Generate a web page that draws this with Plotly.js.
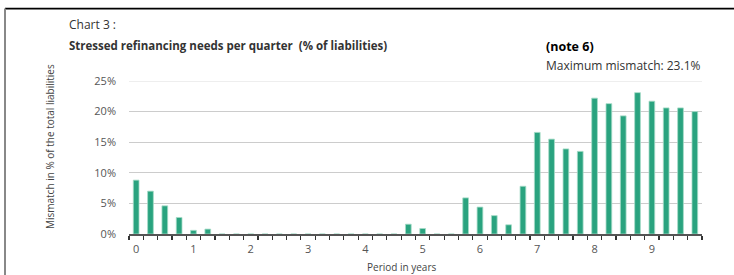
<!DOCTYPE html>
<html>
<head>
<meta charset="utf-8">
<script src="https://cdn.plot.ly/plotly-3.0.1.min.js"></script>
<style>
html,body{margin:0;padding:0;background:#fff;}
#chart{width:734px;height:275px;}
</style>
</head>
<body>
<div id="chart"></div>
<script>
// Period in years (quarters)
const periods = [0,0.25,0.5,0.75,1,1.25,1.5,1.75,2,2.25,2.5,2.75,3,3.25,3.5,3.75,4,4.25,4.5,4.75,
                 5,5.25,5.5,5.75,6,6.25,6.5,6.75,7,7.25,7.5,7.75,8,8.25,8.5,8.75,9,9.25,9.5,9.75];
// Mismatch in % of total liabilities
const mismatch = [8.8,7.0,4.6,2.7,0.6,0.8,0,0,0,0,0,0,0,0,0,0,0,0,0,1.6,
                  0.9,0,0,5.9,4.4,3.0,1.5,7.8,16.6,15.5,13.9,13.5,22.2,21.3,19.3,23.1,21.7,20.6,20.6,20.0];
const xTickVals = [0,1,2,3,4,5,6,7,8,9];
const xTickText = ['0','1','2','3','4','5','6','7','8','9'];
const yTickVals = [0,5,10,15,20,25];
const yTickText = ['0%','5%','10%','15%','20%','25%'];

const font = '"Open Sans", "Noto Sans", sans-serif';

const trace = {
  type: 'bar',
  x: periods,
  y: mismatch,
  width: 0.1,
  marker: {color: '#2aa37f', line: {color: '#a6dcc8', width: 0.8}},
  hoverinfo: 'x+y'
};

const layout = {
  width: 734, height: 275,
  margin: {l: 129, r: 32, t: 80.7, b: 40.7},
  paper_bgcolor: '#ffffff', plot_bgcolor: '#ffffff',
  showlegend: false,
  font: {family: font, size: 11, color: '#444'},
  xaxis: {
    range: [-0.125, 9.875],
    tickmode: 'array', tickvals: xTickVals, ticktext: xTickText,
    ticks: '', showgrid: false, zeroline: false,
    showline: true, linecolor: '#555', linewidth: 1.5,
    tickfont: {family: font, size: 11, color: '#555'},
    minor: {tick0: -0.125, dtick: 0.25, ticks: 'outside', ticklen: 4, tickwidth: 1.2, tickcolor: '#333', showgrid: false},
    ticklabelstandoff: 4
  },
  yaxis: {
    range: [0, 25],
    tickmode: 'array', tickvals: yTickVals, ticktext: yTickText,
    ticks: '', showgrid: true, gridcolor: '#cccccc', gridwidth: 1.2,
    zeroline: false, showline: false,
    tickfont: {family: font, size: 11, color: '#555'},
    ticklabelstandoff: 12
  },
  shapes: [
    {type: 'line', xref: 'paper', yref: 'y', x0: 0, x1: 1, y0: 25, y1: 25, line: {color: '#eeeeee', width: 2}},
    {type: 'line', xref: 'paper', yref: 'paper', x0: -0.2164, x1: 1.06, y0: 1.4733, y1: 1.4733, line: {color: '#000000', width: 1.6}},
    {type: 'line', xref: 'paper', yref: 'paper', x0: -0.2164, x1: -0.2164, y0: 1.4733, y1: -0.27, line: {color: '#888888', width: 2}}
  ],
  annotations: [
    {xref: 'paper', yref: 'paper', x: (67-129)/573, y: (234.3-24)/153.6, xanchor: 'left', yanchor: 'middle',
     text: 'Chart 3 :', showarrow: false, font: {family: font, size: 12, color: '#333'}},
    {xref: 'paper', yref: 'paper', x: (67-129)/573, y: (234.3-45)/153.6, xanchor: 'left', yanchor: 'middle',
     text: '<b>Stressed refinancing needs per quarter  (% of liabilities)</b>', showarrow: false,
     font: {family: font, size: 11.5, color: '#333'}},
    {xref: 'paper', yref: 'paper', x: (544-129)/573, y: (234.3-46)/153.6, xanchor: 'left', yanchor: 'middle',
     text: '<b>(note 6)</b>', showarrow: false, font: {family: font, size: 12.5, color: '#000'}},
    {xref: 'paper', yref: 'paper', x: (544-129)/573, y: (234.3-65)/153.6, xanchor: 'left', yanchor: 'middle',
     text: 'Maximum mismatch: 23.1%', showarrow: false, font: {family: font, size: 12, color: '#333'}},
    {xref: 'paper', yref: 'paper', x: (401-129)/573, y: (234.3-267)/153.6, xanchor: 'center', yanchor: 'middle',
     text: 'Period in years', showarrow: false, font: {family: font, size: 10, color: '#444'}},
    {xref: 'paper', yref: 'paper', x: (50-129)/573, y: (234.3-147)/153.6, xanchor: 'center', yanchor: 'middle',
     text: 'Mismatch in % of the total liabilities', textangle: -90, showarrow: false,
     font: {family: font, size: 10, color: '#444'}}
  ]
};

Plotly.newPlot('chart', [trace], layout, {displayModeBar: false, staticPlot: true});
</script>
</body>
</html>
